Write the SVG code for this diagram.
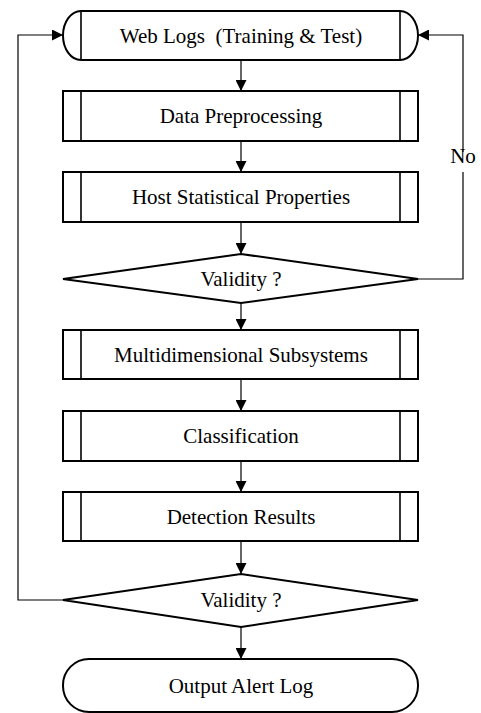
<svg xmlns="http://www.w3.org/2000/svg" width="481" height="713" viewBox="0 0 481 713">
<style>
.s{fill:#fff;stroke:#000;stroke-width:2}
.in{stroke:#000;stroke-width:1.6;fill:none}
.c{stroke:#000;stroke-width:1.2;fill:none}
.t{font-family:'Liberation Serif','DejaVu Serif',serif;font-size:21px;fill:#000;text-anchor:middle}
</style>
<defs>
<marker id="ah" markerWidth="11" markerHeight="11" refX="11" refY="5.5" orient="auto" markerUnits="userSpaceOnUse">
<path d="M0,0 L11,5.5 L0,11 Z" fill="#000"/>
</marker>
</defs>
<rect width="481" height="713" fill="#fff"/>
<g id="connectors">
<line class="c" x1="241" y1="60" x2="241" y2="91" marker-end="url(#ah)"/>
<line class="c" x1="241" y1="141" x2="241" y2="172" marker-end="url(#ah)"/>
<line class="c" x1="241" y1="222" x2="241" y2="254" marker-end="url(#ah)"/>
<line class="c" x1="241" y1="303" x2="241" y2="330" marker-end="url(#ah)"/>
<line class="c" x1="241" y1="379" x2="241" y2="411" marker-end="url(#ah)"/>
<line class="c" x1="241" y1="461" x2="241" y2="492" marker-end="url(#ah)"/>
<line class="c" x1="241" y1="541" x2="241" y2="574" marker-end="url(#ah)"/>
<line class="c" x1="241" y1="627" x2="241" y2="659" marker-end="url(#ah)"/>
<polyline class="c" points="418,279 463,279 463,172"/>
<polyline class="c" points="463,152 463,35 418,35" marker-end="url(#ah)"/>
<polyline class="c" points="63,600 18,600 18,35 63,35" marker-end="url(#ah)"/>
<text class="t" font-family="Liberation Serif, serif" x="463" y="163">No</text>
</g>
<g id="web-logs">
<path class="s" d="M81,11 L400,11 A18,24.5 0 0 1 400,60 L81,60 A18,24.5 0 0 1 81,11 Z"/>
<line class="in" x1="81" y1="11" x2="81" y2="60"/>
<line class="in" x1="400" y1="11" x2="400" y2="60"/>
<text class="t" font-family="Liberation Serif, serif" x="241" y="42.5">Web Logs &#160;(Training &amp; Test)</text>
</g>
<g id="data-preprocessing">
<rect class="s" x="63" y="91" width="355" height="50"/>
<line class="in" x1="81" y1="91" x2="81" y2="141"/>
<line class="in" x1="400" y1="91" x2="400" y2="141"/>
<text class="t" font-family="Liberation Serif, serif" x="241" y="123">Data Preprocessing</text>
</g>
<g id="host-statistical">
<rect class="s" x="63" y="172" width="355" height="50"/>
<line class="in" x1="81" y1="172" x2="81" y2="222"/>
<line class="in" x1="400" y1="172" x2="400" y2="222"/>
<text class="t" font-family="Liberation Serif, serif" x="241" y="204">Host Statistical Properties</text>
</g>
<g id="validity-1">
<polygon class="s" points="241,254 418,279 241,303 63,279"/>
<text class="t" font-family="Liberation Serif, serif" x="241" y="286">Validity ?</text>
</g>
<g id="multidimensional">
<rect class="s" x="63" y="330" width="355" height="49"/>
<line class="in" x1="81" y1="330" x2="81" y2="379"/>
<line class="in" x1="400" y1="330" x2="400" y2="379"/>
<text class="t" font-family="Liberation Serif, serif" x="241" y="362">Multidimensional Subsystems</text>
</g>
<g id="classification">
<rect class="s" x="63" y="411" width="355" height="50"/>
<line class="in" x1="81" y1="411" x2="81" y2="461"/>
<line class="in" x1="400" y1="411" x2="400" y2="461"/>
<text class="t" font-family="Liberation Serif, serif" x="241" y="443">Classification</text>
</g>
<g id="detection-results">
<rect class="s" x="63" y="492" width="355" height="49"/>
<line class="in" x1="81" y1="492" x2="81" y2="541"/>
<line class="in" x1="400" y1="492" x2="400" y2="541"/>
<text class="t" font-family="Liberation Serif, serif" x="241" y="524">Detection Results</text>
</g>
<g id="validity-2">
<polygon class="s" points="241,574 418,600 241,627 63,600"/>
<text class="t" font-family="Liberation Serif, serif" x="241" y="607">Validity ?</text>
</g>
<g id="output-alert-log">
<rect class="s" x="63" y="659" width="355" height="53" rx="26" ry="26"/>
<text class="t" font-family="Liberation Serif, serif" x="241" y="693">Output Alert Log</text>
</g>
</svg>
